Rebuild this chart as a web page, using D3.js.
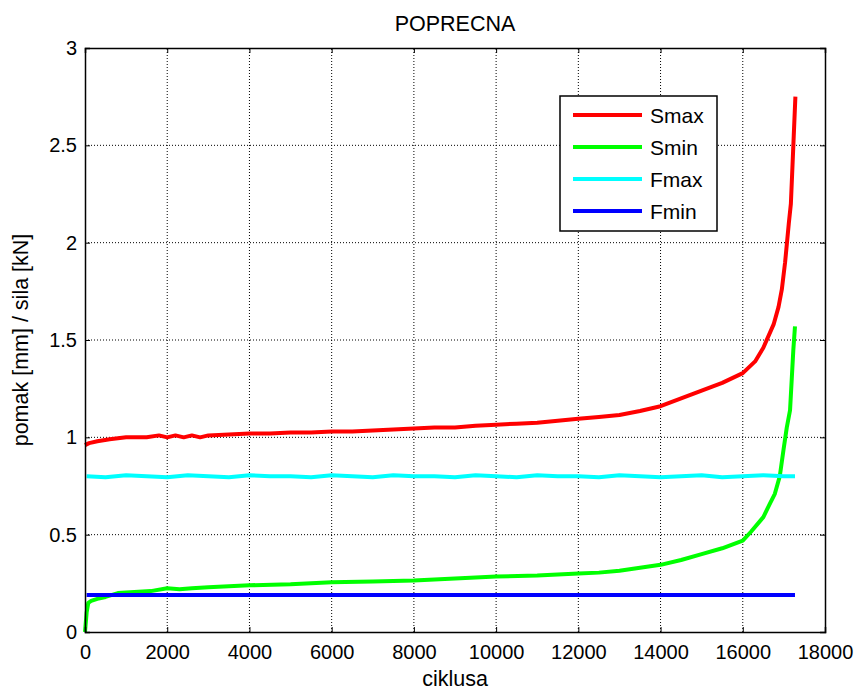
<!DOCTYPE html>
<html>
<head>
<meta charset="utf-8">
<script src="https://cdn.jsdelivr.net/npm/d3@7"></script>
<style>
  body { margin: 0; background: #fff; }
  svg { display: block; font-family: "Liberation Sans", Arial, sans-serif; }
</style>
</head>
<body>
<div id="chart"></div>
<script>
const xTicks = [0, 2000, 4000, 6000, 8000, 10000, 12000, 14000, 16000, 18000]
const yTicks = [0, 0.5, 1, 1.5, 2, 2.5, 3]

const smaxCycles = [0, 100, 300, 600, 1000, 1500, 1800, 2000, 2200, 2400, 2600, 2800, 3000, 3500, 4000, 4500, 5000, 5500, 6000, 6500, 7000, 7500, 8000, 8500, 9000, 9500, 10000, 10500, 11000, 11500, 12000, 12500, 13000, 13500, 14000, 14500, 15000, 15500, 16000, 16300, 16500, 16750, 16870, 16950, 17030, 17120, 17170, 17210, 17240, 17280]
const smaxValues = [0.96, 0.97, 0.98, 0.99, 1.0, 1.0, 1.01, 1.0, 1.01, 1.0, 1.01, 1.0, 1.01, 1.015, 1.02, 1.02, 1.025, 1.025, 1.03, 1.03, 1.035, 1.04, 1.045, 1.05, 1.05, 1.06, 1.065, 1.07, 1.075, 1.085, 1.095, 1.105, 1.115, 1.135, 1.16, 1.2, 1.24, 1.28, 1.33, 1.39, 1.46, 1.58, 1.67, 1.76, 1.9, 2.1, 2.2, 2.4, 2.55, 2.75]

const sminCycles = [0, 40, 80, 150, 300, 500, 800, 1200, 1600, 2000, 2300, 2600, 3000, 3500, 4000, 5000, 6000, 7000, 8000, 9000, 10000, 11000, 12000, 12500, 13000, 13500, 14000, 14500, 15000, 15500, 16000, 16200, 16500, 16660, 16780, 16900, 16990, 17070, 17150, 17230, 17270]
const sminValues = [0, 0.1, 0.15, 0.16, 0.17, 0.18, 0.2, 0.205, 0.21, 0.225, 0.22, 0.225, 0.23, 0.235, 0.24, 0.245, 0.255, 0.26, 0.265, 0.275, 0.285, 0.29, 0.3, 0.305, 0.315, 0.33, 0.345, 0.37, 0.4, 0.43, 0.47, 0.515, 0.59, 0.66, 0.71, 0.8, 0.935, 1.05, 1.14, 1.45, 1.57]

const fmaxCycles = [40, 500, 1000, 1500, 2000, 2500, 3000, 3500, 4000, 4500, 5000, 5500, 6000, 6500, 7000, 7500, 8000, 8500, 9000, 9500, 10000, 10500, 11000, 11500, 12000, 12500, 13000, 13500, 14000, 14500, 15000, 15500, 16000, 16500, 17000, 17270]
const fmaxValues = [0.8, 0.795, 0.805, 0.8, 0.795, 0.805, 0.8, 0.795, 0.805, 0.8, 0.8, 0.795, 0.805, 0.8, 0.795, 0.805, 0.8, 0.8, 0.795, 0.805, 0.8, 0.795, 0.805, 0.8, 0.8, 0.795, 0.805, 0.8, 0.795, 0.8, 0.805, 0.795, 0.8, 0.805, 0.8, 0.8]

const fminCycles = [40, 17270]
const fminValues = [0.19, 0.19]

const seriesNames = ['Smax', 'Smin', 'Fmax', 'Fmin']
const seriesColours = ['#ff0000', '#00ff00', '#00ffff', '#0000ff']

const width = 858
const height = 691
const margin = {top: 48, right: 33, bottom: 59, left: 85}
const font = '"Liberation Sans", Arial, sans-serif'

const toPoints = (xs, ys) => xs.map((c, i) => ({x: c, y: ys[i]}))
const series = [
  toPoints(smaxCycles, smaxValues),
  toPoints(sminCycles, sminValues),
  toPoints(fmaxCycles, fmaxValues),
  toPoints(fminCycles, fminValues)
]

const svg = d3.select('#chart')
  .append('svg')
  .attr('width', width)
  .attr('height', height)

const x = d3.scaleLinear()
  .domain([0, 18000])
  .range([margin.left, width - margin.right])

const y = d3.scaleLinear()
  .domain([0, 3])
  .range([height - margin.bottom, margin.top])

// Grid
svg.append('g')
  .selectAll('line')
  .data(xTicks.slice(1, -1))
  .enter()
  .append('line')
  .attr('x1', d => x(d))
  .attr('x2', d => x(d))
  .attr('y1', y(0))
  .attr('y2', y(3))
  .attr('stroke', '#000')
  .attr('stroke-width', 1)
  .attr('stroke-dasharray', '1,2')

svg.append('g')
  .selectAll('line')
  .data(yTicks.slice(1, -1))
  .enter()
  .append('line')
  .attr('x1', x(0))
  .attr('x2', x(18000))
  .attr('y1', d => y(d))
  .attr('y2', d => y(d))
  .attr('stroke', '#000')
  .attr('stroke-width', 1)
  .attr('stroke-dasharray', '1,2')

// Lines
const line = d3.line()
  .x(d => x(d.x))
  .y(d => y(d.y))

svg.append('g')
  .selectAll('path')
  .data(series)
  .enter()
  .append('path')
  .attr('d', line)
  .attr('fill', 'none')
  .attr('stroke', (d, i) => seriesColours[i])
  .attr('stroke-width', 4)
  .attr('stroke-linejoin', 'round')

// Axes (ticks inside, on all four sides)
const tickLen = 5
const xBottom = svg.append('g')
  .attr('transform', `translate(0,${y(0)})`)
  .call(d3.axisBottom(x).tickValues(xTicks).tickSize(-tickLen).tickPadding(13).tickFormat(d3.format('d')))
const xTop = svg.append('g')
  .attr('transform', `translate(0,${y(3)})`)
  .call(d3.axisTop(x).tickValues(xTicks).tickSize(-tickLen).tickFormat(''))
const yLeft = svg.append('g')
  .attr('transform', `translate(${x(0)},0)`)
  .call(d3.axisLeft(y).tickValues(yTicks).tickSize(-tickLen).tickPadding(8).tickFormat(d => d))
const yRight = svg.append('g')
  .attr('transform', `translate(${x(18000)},0)`)
  .call(d3.axisRight(y).tickValues(yTicks).tickSize(-tickLen).tickFormat(''))

for (const axis of [xBottom, xTop, yLeft, yRight]) {
  axis.select('.domain').attr('stroke', '#000').attr('stroke-width', 1.5)
  axis.selectAll('.tick line').attr('stroke', '#000')
  axis.selectAll('text')
    .style('font-size', '20px')
    .style('font-family', font)
    .attr('fill', '#000')
}

// Titles
svg.append('text')
  .attr('x', (x(0) + x(18000)) / 2)
  .attr('y', 31)
  .attr('text-anchor', 'middle')
  .style('font-size', '21.5px')
  .text('POPRECNA')

svg.append('text')
  .attr('x', (x(0) + x(18000)) / 2)
  .attr('y', 686)
  .attr('text-anchor', 'middle')
  .style('font-size', '21.5px')
  .text('ciklusa')

svg.append('text')
  .attr('transform', `translate(28,${(y(0) + y(3)) / 2}) rotate(-90)`)
  .attr('text-anchor', 'middle')
  .style('font-size', '21.5px')
  .text('pomak [mm] / sila [kN]')

// Legend
const legend = svg.append('g')
  .attr('transform', 'translate(560,96)')

legend.append('rect')
  .attr('width', 157)
  .attr('height', 135)
  .attr('fill', '#fff')
  .attr('stroke', '#000')
  .attr('stroke-width', 1.5)

const entries = legend.selectAll('g.entry')
  .data(seriesNames)
  .enter()
  .append('g')
  .attr('class', 'entry')
  .attr('transform', (d, i) => `translate(0,${19 + i * 32})`)

entries.append('line')
  .attr('x1', 13)
  .attr('x2', 82)
  .attr('stroke', (d, i) => seriesColours[i])
  .attr('stroke-width', 4)

entries.append('text')
  .attr('x', 90)
  .attr('dy', '0.36em')
  .style('font-size', '21px')
  .text(d => d)
</script>
</body>
</html>
